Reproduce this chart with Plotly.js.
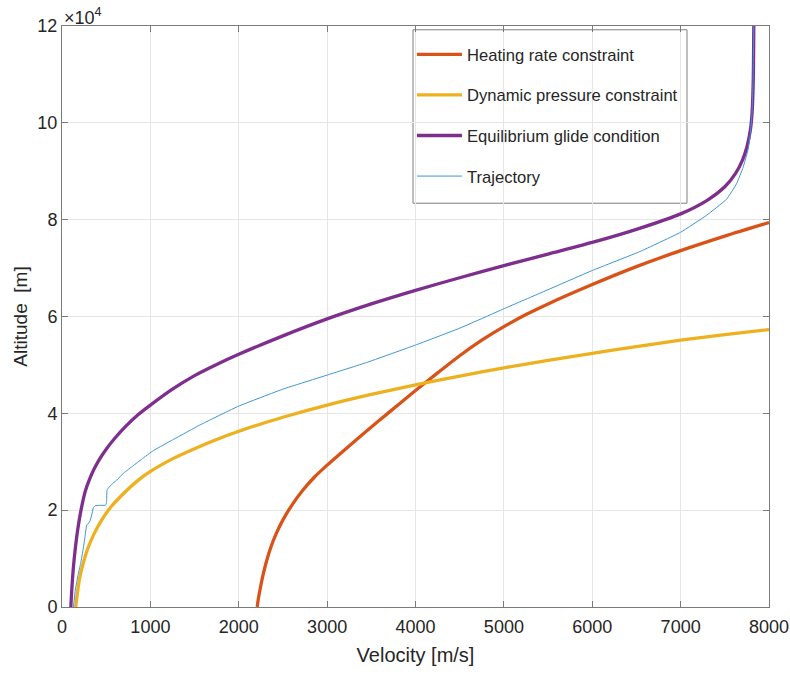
<!DOCTYPE html>
<html>
<head>
<meta charset="utf-8">
<script src="https://cdn.plot.ly/plotly-3.0.1.min.js"></script>
<style>html,body{margin:0;padding:0;background:#fff;}</style>
</head>
<body>
<div id="chart" style="width:790px;height:675px;"></div>
<script>
// Heating rate constraint
const heatVel = [2209, 2220, 2240, 2270, 2310, 2360, 2420, 2500, 2600, 2720, 2860, 3000, 3200, 3450, 3700, 4000, 4250, 4500, 4750, 5000, 5250, 5500, 6000, 6500, 7000, 7500, 8000];
const heatAlt = [0, 1500, 3500, 6200, 9200, 12200, 15000, 18000, 21000, 24000, 26900, 29300, 32500, 36400, 40200, 44700, 48350, 51900, 55100, 57900, 60400, 62600, 66600, 70300, 73600, 76600, 79400];
// Dynamic pressure constraint
const dynVel = [155, 175, 200, 240, 290, 360, 450, 560, 700, 850, 1000, 1250, 1500, 1750, 2000, 2250, 2500, 3000, 3500, 4000, 4500, 5000, 5500, 6000, 6500, 7000, 7500, 8000];
const dynAlt = [0, 3000, 6000, 9000, 12000, 15000, 18000, 20800, 23500, 26000, 28000, 30600, 32700, 34600, 36300, 37800, 39200, 41700, 43900, 45900, 47700, 49400, 50950, 52400, 53800, 55100, 56250, 57300];
// Equilibrium glide condition
const eqVel = [100, 112, 128, 150, 178, 215, 265, 310, 360, 420, 500, 600, 720, 860, 1000, 1250, 1500, 1750, 2000, 2500, 3000, 3500, 4000, 4500, 5000, 5500, 6000, 6500, 7000, 7300, 7500, 7620, 7700, 7750, 7790, 7810, 7822, 7828];
const eqAlt = [0, 4000, 8000, 12000, 16000, 20000, 24000, 26300, 28400, 30400, 32600, 34900, 37300, 39700, 41700, 45000, 47800, 50100, 52200, 56000, 59500, 62600, 65400, 68000, 70500, 72900, 75300, 78000, 81200, 84000, 86800, 89500, 92300, 95000, 98600, 102500, 109000, 120000];
// Trajectory
const trajVel = [130, 150, 180, 211, 240, 260, 279, 300, 317, 336, 355, 373, 420, 486, 500, 505, 510, 560, 619, 700, 807, 900, 1033, 1200, 1561, 2000, 2500, 3000, 3447, 4000, 4502, 4804, 5000, 5407, 6000, 6538, 7000, 7293, 7519, 7632, 7707, 7764, 7790, 7808, 7820, 7828];
const trajAlt = [0, 3500, 6500, 9000, 12000, 14500, 16900, 17300, 17800, 19000, 20500, 20900, 21000, 21000, 21200, 22000, 24200, 25300, 26200, 27700, 29200, 30500, 32300, 34000, 37600, 41500, 45000, 47900, 50500, 54100, 57600, 60000, 61600, 64800, 69500, 73400, 77400, 80900, 84200, 87400, 90800, 94500, 98000, 102000, 109000, 120000];

const seriesNames = ["Heating rate constraint", "Dynamic pressure constraint", "Equilibrium glide condition", "Trajectory"];
const xTickVals = [0, 1000, 2000, 3000, 4000, 5000, 6000, 7000, 8000];
const yTickVals = [0, 20000, 40000, 60000, 80000, 100000, 120000];
const yTickText = ["0", "2", "4", "6", "8", "10", "12"];

const FONT = "Liberation Sans, Arial, Helvetica, sans-serif";
const TXT = "#262626";
const AX = "#7a7a7a";

const traces = [
  {x: heatVel, y: heatAlt, name: seriesNames[0], legendgroup: "a", mode: "lines",
   line: {color: "#D95319", width: 3.3, shape: "spline", smoothing: 0.8}},
  {x: dynVel, y: dynAlt, name: seriesNames[1], legendgroup: "b", mode: "lines",
   line: {color: "#EDB120", width: 3.3, shape: "spline", smoothing: 0.8}},
  {x: eqVel, y: eqAlt, name: seriesNames[2], legendgroup: "c", mode: "lines",
   line: {color: "#7E2F8E", width: 3.3, shape: "spline", smoothing: 0.8}},
  {x: trajVel, y: trajAlt, name: seriesNames[3], legendgroup: "d", mode: "lines",
   line: {color: "#3d95d6", width: 1, shape: "spline", smoothing: 0.3}}
];

const layout = {
  width: 790, height: 675,
  margin: {l: 62, r: 21, t: 26, b: 68},
  paper_bgcolor: "#ffffff", plot_bgcolor: "#ffffff",
  font: {family: FONT, color: TXT, size: 18},
  showlegend: true,
  legend: {
    x: 0.495, y: 0.981, xanchor: "left", yanchor: "top",
    bgcolor: "rgba(0,0,0,0)", borderwidth: 0,
    font: {family: FONT, size: 16.6, color: TXT},
    tracegroupgap: 16, itemwidth: 45
  },
  shapes: [{
    type: "rect", xref: "paper", yref: "paper", layer: "between",
    x0: 0.4965, x1: 0.884, y0: 0.695, y1: 0.9935,
    fillcolor: "#ffffff", line: {color: "#7f7f7f", width: 1}
  }],
  xaxis: {
    range: [0, 8000], tickvals: xTickVals, ticks: "inside", ticklen: 6, tickcolor: AX,
    showline: true, linecolor: AX, linewidth: 1, mirror: "ticks",
    showgrid: true, gridcolor: "#e6e6e6", gridwidth: 1, zeroline: false,
    tickfont: {family: FONT, size: 18, color: TXT}, ticklabelstandoff: 3,
    title: {text: "Velocity [m/s]", font: {family: FONT, size: 20, color: TXT}, standoff: 12}
  },
  yaxis: {
    range: [0, 120000], tickvals: yTickVals, ticktext: yTickText, ticks: "inside", ticklen: 6, tickcolor: AX,
    showline: true, linecolor: AX, linewidth: 1, mirror: "ticks",
    showgrid: true, gridcolor: "#e6e6e6", gridwidth: 1, zeroline: false,
    tickfont: {family: FONT, size: 18, color: TXT},
    title: {text: "Altitude\u00a0 [m]", font: {family: FONT, size: 19, color: TXT}, standoff: 4}
  },
  annotations: [{
    xref: "paper", yref: "paper", x: 0, y: 1, xanchor: "left", yanchor: "bottom",
    text: "×10<sup>4</sup>", showarrow: false, font: {family: FONT, size: 18, color: TXT},
    xshift: 0, yshift: -4
  }]
};

Plotly.newPlot("chart", traces, layout, {displayModeBar: false, staticPlot: true});
</script>
</body>
</html>
